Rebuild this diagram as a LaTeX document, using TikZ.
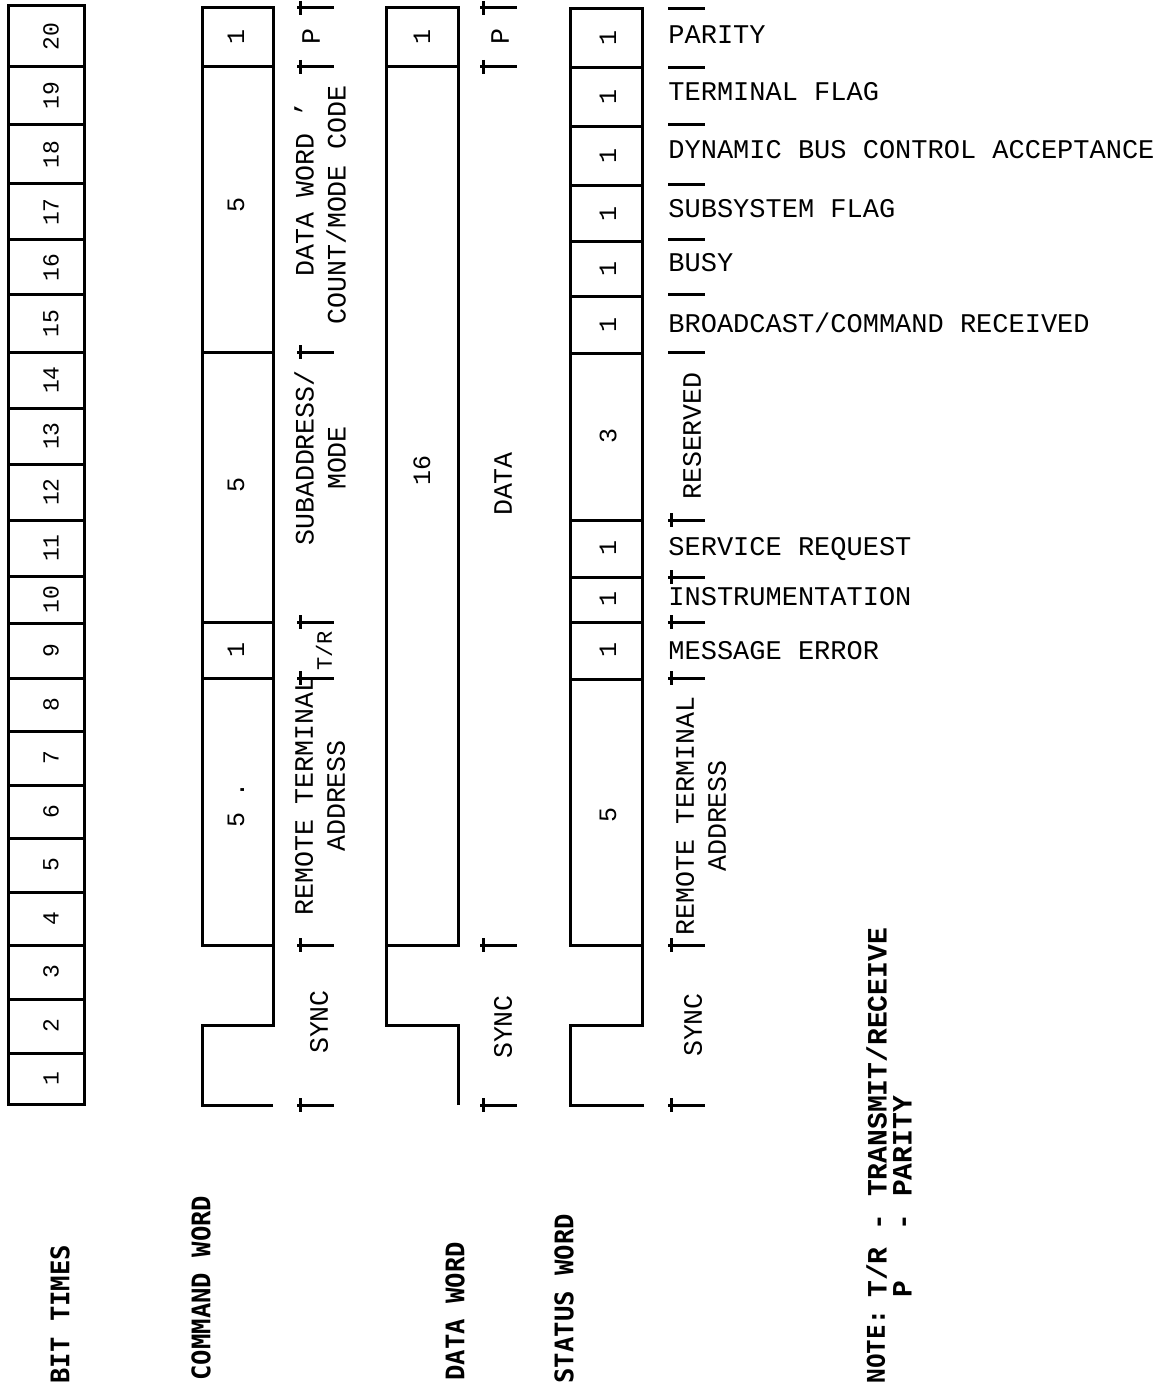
\documentclass[tikz,border=0pt]{standalone}
\usepackage{fontspec}
\setmainfont{Liberation Mono}
\newfontfamily\lblfont{DejaVu Sans Mono}
\begin{document}
\begin{tikzpicture}[x=0.5pt,y=-0.5pt,
  wline/.style={line width=1.5pt, line join=miter},
  dline/.style={line width=1.5pt},
  rot/.style={rotate=90, inner sep=0pt},
  lab/.style={font=\fontsize{13.3}{16}\selectfont, inner sep=0pt},
  slab/.style={font=\fontsize{13.5}{16}\selectfont, inner sep=0pt, anchor=base west},
  num/.style={font=\fontsize{11.5}{13}\selectfont, rot},
  boxnum/.style={font=\fontsize{12.5}{14}\selectfont, rot},
  leftlab/.style={font=\lblfont\bfseries\fontsize{12.8}{15}\selectfont, rot, anchor=west},
  notefont/.style={font=\bfseries\fontsize{14}{12.5}\selectfont, rot, align=left},
  barmark/.pic={\draw[dline] (0,0) -- (37,0); \draw[dline] (3,-7) -- (3,7);},
  plainmark/.pic={\draw[dline] (0,0) -- (37,0);}
]
\useasboundingbox (0,0) rectangle (1162,1390);

% ---------- bit times ----------
\foreach \i/\a/\b in {1/1104/1053, 2/1053/999, 3/999/945, 4/945/892, 5/892/838,
  6/838/785, 7/785/731, 8/731/678, 9/678/623, 10/623/576, 11/576/520,
  12/520/464, 13/464/408, 14/408/352, 15/352/295, 16/295/240, 17/240/184,
  18/184/125, 19/125/67, 20/67/6}{
  \draw[wline] (8,\a) rectangle (84,\b);
  \node[num] (bit\i) at (51,{(\a+\b)/2}) {\i};
}

% ---------- command word ----------
\draw[wline] (273,1105) -- (202,1105) -- (202,1025) -- (273,1025) -- (273,8)
  -- (202,8) -- (202,945) -- (273,945);
\foreach \yy in {67,352,622,678} \draw[wline] (202,\yy) -- (273,\yy);
\node[boxnum] (cp) at (236,37) {1};
\node[boxnum] (cwc) at (236,205) {5};
\node[boxnum] (csa) at (236,485) {5};
\node[boxnum] (ctr) at (236,650) {1};
\node[boxnum] (crt) at (236,805) {5 .};
\foreach \yy in {1105,945,678,622,352,67,8} \pic at (297,\yy) {barmark};
\node[lab,rot] (csync) at (319,1022) {SYNC};
\node[lab,rot,align=center] (crtl) at (320,796) {REMOTE TERMINAL\\ADDRESS};
\node[lab,rot,font=\fontsize{11}{13}\selectfont] (ctrl) at (324,651) {T/R};
\node[lab,rot,align=center] (csal) at (320,458) {SUBADDRESS/\\MODE};
\node[lab,rot,align=center] (cwcl) at (320,205) {DATA WORD\rlap{ '}\\COUNT/MODE CODE};
\node[lab,rot] (cpl) at (311,37) {P};

% ---------- data word ----------
\draw[wline] (458,1105) -- (458,1025) -- (386,1025) -- (386,8) -- (458,8)
  -- (458,945) -- (386,945);
\draw[wline] (386,67) -- (458,67);
\node[boxnum] (dp) at (422,37) {1};
\node[boxnum] (dd) at (422,470) {16};
\foreach \yy in {1105,945,67,8} \pic at (480,\yy) {barmark};
\node[lab,rot] (dpl) at (500,37) {P};
\node[lab,rot] (ddl) at (503,484) {DATA};
\node[lab,rot] (dsync) at (503,1027) {SYNC};

% ---------- status word ----------
\draw[wline] (644,1105) -- (570,1105) -- (570,1025) -- (642,1025) -- (642,9)
  -- (570,9) -- (570,945) -- (642,945);
\foreach \yy in {68,127,186,242,297,353,520,577,622,679} \draw[wline] (570,\yy) -- (642,\yy);
\foreach \n/\yy in {sp/38, stf/97, sdb/156, ssf/214, sby/269, sbc/325, ssr/548, sin/599, sme/650}
  \node[boxnum] (\n) at (608,\yy) {1};
\node[boxnum] (srs) at (608,436) {3};
\node[boxnum] (srt) at (608,815) {5};
\foreach \yy in {9,68,125,185,240,295,352} \pic at (668,\yy) {plainmark};
\foreach \yy in {520,577,622,678,945,1105} \pic at (668,\yy) {barmark};
\node[slab] (lpar) at (668,44) {PARITY};
\node[slab] (ltf) at (668,101) {TERMINAL FLAG};
\node[slab] (ldb) at (668,159) {DYNAMIC BUS CONTROL ACCEPTANCE};
\node[slab] (lsf) at (668,218) {SUBSYSTEM FLAG};
\node[slab] (lby) at (668,272) {BUSY};
\node[slab] (lbc) at (668,333) {BROADCAST/COMMAND RECEIVED};
\node[lab,rot] (lrs) at (692,436) {RESERVED};
\node[slab] (lsr) at (668,555) {SERVICE REQUEST};
\node[slab] (lin) at (668,605) {INSTRUMENTATION};
\node[slab] (lme) at (668,659) {MESSAGE ERROR};
\node[lab,rot,align=center] (lrt) at (701,816) {REMOTE TERMINAL\\ADDRESS};
\node[lab,rot] (ssync) at (693,1025) {SYNC};

% ---------- left labels ----------
\node[leftlab] (lbit) at (60,1384) {BIT TIMES};
\node[leftlab] (lcmd) at (201,1381) {COMMAND WORD};
\node[leftlab] (ldat) at (455,1381) {DATA WORD};
\node[leftlab] (lsta) at (564,1384) {STATUS WORD};
\node[leftlab, font=\lblfont\bfseries\fontsize{12.2}{14}\selectfont] (lnote) at (876,1384) {NOTE:};
\node[notefont, anchor=north west] (notetext) at (866,1298)
  {T/R - TRANSMIT/RECEIVE\\P\phantom{/R} - PARITY};
\end{tikzpicture}
\end{document}
